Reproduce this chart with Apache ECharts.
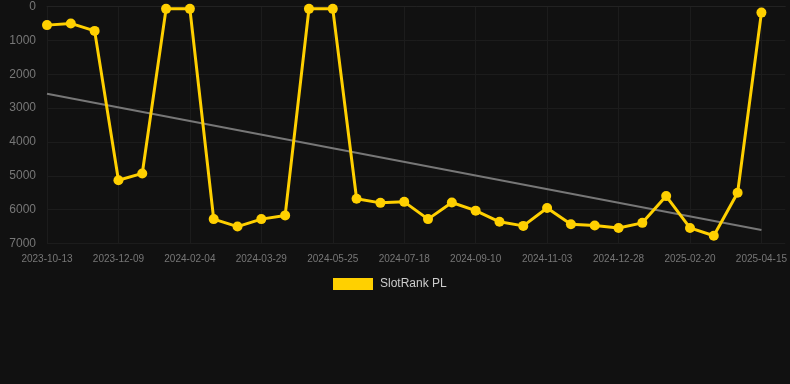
<!DOCTYPE html>
<html>
<head>
<meta charset="utf-8">
<script src="https://cdn.jsdelivr.net/npm/echarts@6/dist/echarts.min.js"></script>
<style>
html,body{margin:0;padding:0;background:#111111;}
#chart{width:790px;height:384px;}
</style>
</head>
<body>
<div id="chart"></div>
<script>
const categories = ['2023-10-13','2023-11-01','2023-11-20','2023-12-09','2023-12-28','2024-01-16','2024-02-04','2024-02-22','2024-03-11','2024-03-29','2024-04-17','2024-05-06','2024-05-25','2024-06-12','2024-06-30','2024-07-18','2024-08-06','2024-08-24','2024-09-10','2024-09-28','2024-10-16','2024-11-03','2024-11-21','2024-12-10','2024-12-28','2025-01-15','2025-02-02','2025-02-20','2025-03-10','2025-03-28','2025-04-15','2025-05-03'];
const rankValues = [550,500,720,5130,4930,70,70,6280,6500,6280,6170,70,70,5680,5800,5770,6280,5790,6030,6360,6480,5950,6430,6470,6540,6390,5600,6540,6770,5500,180];
const trendValues = [2580,null,null,null,null,null,null,null,null,null,null,null,null,null,null,null,null,null,null,null,null,null,null,null,null,null,null,null,null,null,6600];
const yTicks = [0,1000,2000,3000,4000,5000,6000,7000];
const seriesName = 'SlotRank PL';

const chart = echarts.init(document.getElementById('chart'));
chart.setOption({
  backgroundColor: '#111111',
  animation: false,
  grid: {left: 47, right: 1, top: 6.5, bottom: 140.5},
  legend: {
    data: [seriesName],
    top: 278, left: 333,
    padding: 0,
    itemWidth: 40, itemHeight: 12,
    itemGap: 10,
    icon: 'rect',
    textStyle: {color: '#cccccc', fontSize: 12, padding: [0, 0, 0, 2]}
  },
  xAxis: {
    type: 'category',
    data: categories,
    boundaryGap: false,
    axisLine: {show: true, lineStyle: {color: '#222222'}},
    axisTick: {show: false},
    axisLabel: {color: '#777777', fontSize: 10, interval: 2, margin: 11},
    splitLine: {show: true, interval: 2, lineStyle: {color: '#1c1c1c'}}
  },
  yAxis: {
    type: 'value',
    inverse: true,
    min: yTicks[0], max: yTicks[yTicks.length-1], interval: 1000,
    axisLine: {show: false},
    axisTick: {show: false},
    axisLabel: {color: '#777777', fontSize: 12, margin: 11, formatter: function(v){ return String(v); }},
    splitLine: {show: true, lineStyle: {color: '#1c1c1c'}}
  },
  series: [
    {
      name: seriesName,
      type: 'line',
      data: rankValues,
      color: '#ffd000',
      lineStyle: {width: 3, color: '#ffd000'},
      symbol: 'circle',
      symbolSize: 10,
      itemStyle: {color: '#ffd000'},
      z: 3
    },
    {
      name: 'trend',
      type: 'line',
      data: trendValues,
      connectNulls: true,
      showSymbol: false,
      symbol: 'none',
      lineStyle: {width: 2, color: '#777777'},
      z: 2
    }
  ]
});
</script>
</body>
</html>
